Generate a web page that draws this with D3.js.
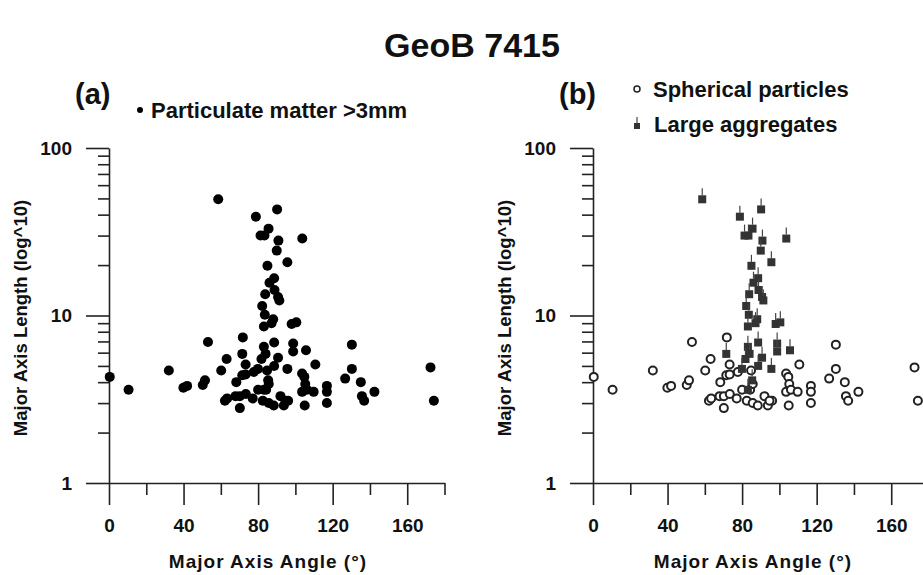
<!DOCTYPE html>
<html>
<head>
<meta charset="utf-8">
<script src="https://cdn.jsdelivr.net/npm/d3@7"></script>
<style>
  body { margin: 0; background: #fff; }
  text { font-family: "Liberation Sans", Arial, sans-serif; font-weight: bold; fill: #111; }
</style>
</head>
<body>
<svg id="chart" width="923" height="575"></svg>
<script>
// values: angle in degrees, length on a log axis
const aggAngle  = [58.6, 90.2, 78.8, 85.6, 81.3, 83.4, 90.9, 103.7, 90.0, 95.7, 85.0, 88.6, 86.1, 83.8, 88.8, 90.7, 91.4, 82.2, 83.6, 88.1,
                   83.1, 87.2, 98.0, 100.5, 83.1, 88.6, 98.8, 98.8, 105.7, 84.0, 71.5, 81.8, 90.7, 88.6, 95.7, 79.9, 85.4, 83.1];
const aggLength = [49.4, 43.0, 38.9, 33.0, 30.0, 30.0, 28.0, 28.8, 24.4, 20.8, 19.8, 16.7, 15.7, 13.4, 14.2, 12.9, 12.3, 11.4, 10.1, 9.5,
                   8.6, 9.0, 8.9, 9.1, 6.5, 6.9, 6.8, 6.1, 6.2, 5.9, 5.9, 5.5, 5.6, 5.0, 4.8, 4.8, 4.1, 3.6];

const sphAngle  = [0.4, 10.5, 32.1, 39.9, 41.9, 50.3, 51.5, 53.1, 60.2, 63.1, 62.2, 63.4, 68.3, 67.9, 70.2, 70.2, 71.8, 73.3, 71.5, 73.3,
                   73.4, 77.1, 77.7, 80.0, 82.5, 84.3, 84.8, 85.7, 85.7, 88.4, 92.0, 93.8, 96.1, 94.7, 103.6, 104.8, 105.3, 103.6, 106.2, 109.8,
                   105.0, 110.7, 116.9, 116.9, 116.9, 126.7, 130.3, 130.3, 135.1, 135.7, 136.9, 142.4, 172.5, 174.3];
const sphLength = [4.3, 3.6, 4.7, 3.7, 3.8, 3.85, 4.1, 6.95, 4.7, 5.5, 3.1, 3.2, 4.0, 3.3, 3.3, 2.8, 7.4, 5.1, 4.4, 4.45,
                   3.4, 3.2, 4.6, 3.6, 3.1, 3.6, 4.7, 3.9, 3.0, 2.9, 3.3, 2.9, 3.1, 3.1, 4.5, 4.3, 3.9, 3.5, 3.6, 3.5,
                   2.9, 5.1, 3.8, 3.5, 3.0, 4.2, 6.7, 4.8, 4.0, 3.3, 3.1, 3.5, 4.9, 3.1];

const xTicksMajor = [0, 40, 80, 120, 160];
const xTicksMinor = [20, 60, 100, 140, 180];
const yTicksMajor = [1, 10, 100];

const svg = d3.select("#chart");

svg.append("text").attr("x", 472).attr("y", 57).attr("text-anchor", "middle")
    .style("font-size", "34px").text("GeoB 7415");

const y = d3.scaleLog().domain([1, 100]).range([483, 148]);
const yMinor = d3.range(0, 2).flatMap(e => d3.range(2, 10).map(m => m * Math.pow(10, e)));

function panel(x0, tag, labelX) {
    const x = d3.scaleLinear().domain([0, 180]).range([x0, x0 + 335.5]);
    const g = svg.append("g");

    // x axis: major + minor ticks pointing down
    g.append("g").attr("class", "xa").attr("transform", "translate(0,483)")
        .call(d3.axisBottom(x).tickValues(xTicksMinor).tickSize(12).tickSizeOuter(0).tickFormat(""));
    g.append("g").attr("class", "xa").attr("transform", "translate(0,483)")
        .call(d3.axisBottom(x).tickValues(xTicksMajor).tickSize(22).tickSizeOuter(0).tickPadding(10))
        .call(a => a.select(".domain").remove());

    // y axis
    g.append("g").attr("transform", `translate(${x0},0)`)
        .call(d3.axisLeft(y).tickValues(yMinor).tickSize(11).tickSizeOuter(0).tickFormat(""));
    g.append("g").attr("transform", `translate(${x0},0)`)
        .call(d3.axisLeft(y).tickValues(yTicksMajor).tickSize(23).tickSizeOuter(0).tickPadding(14)
            .tickFormat(d3.format("d")))
        .call(a => a.select(".domain").remove());

    g.selectAll(".domain, .tick line").attr("stroke", "#222").attr("stroke-width", 1.6);
    g.selectAll(".tick text").style("font-size", "19px").attr("fill", "#111");
    g.selectAll(".xa .tick text").attr("dy", "0.9em");

    g.append("text").attr("x", labelX).attr("y", 568).attr("text-anchor", "middle")
        .style("font-size", "19px").style("letter-spacing", "1px").text("Major Axis Angle (°)");
    g.append("text").attr("transform", `translate(${x0 - 82},318) rotate(-90)`).attr("text-anchor", "middle")
        .style("font-size", "18.5px").text("Major Axis Length (log^10)");
    g.append("text").attr("x", x0 - 34).attr("y", 104).style("font-size", "29px").text(tag);
    return { g, x };
}

// (a) all particulate matter
const A = panel(109, "(a)", 268);
const allAngle = sphAngle.concat(aggAngle);
const allLength = sphLength.concat(aggLength);
A.g.append("g").selectAll("circle").data(allAngle).join("circle")
    .attr("cx", d => A.x(d)).attr("cy", (d, i) => y(allLength[i])).attr("r", 5).attr("fill", "#000");
A.g.append("circle").attr("cx", 140).attr("cy", 110).attr("r", 3).attr("fill", "#000");
A.g.append("text").attr("x", 151).attr("y", 118).style("font-size", "22px").text("Particulate matter >3mm");

// (b) spherical particles vs large aggregates
const B = panel(593, "(b)", 753);
B.g.append("g").selectAll("circle").data(sphAngle).join("circle")
    .attr("cx", d => B.x(d)).attr("cy", (d, i) => y(sphLength[i])).attr("r", 4)
    .attr("fill", "#fff").attr("stroke", "#222").attr("stroke-width", 2);
const agg = B.g.append("g").selectAll("g").data(aggAngle).join("g")
    .attr("transform", (d, i) => `translate(${B.x(d)},${y(aggLength[i])})`);
agg.append("line").attr("y1", -4).attr("y2", -11).attr("stroke", "#444").attr("stroke-width", 1.2);
agg.append("rect").attr("x", -4).attr("y", -4).attr("width", 8).attr("height", 8).attr("fill", "#333");

B.g.append("circle").attr("cx", 637).attr("cy", 89).attr("r", 3).attr("fill", "#fff").attr("stroke", "#222").attr("stroke-width", 1.5);
B.g.append("line").attr("x1", 637).attr("x2", 637).attr("y1", 117).attr("y2", 124).attr("stroke", "#444").attr("stroke-width", 1.2);
B.g.append("rect").attr("x", 634).attr("y", 123).attr("width", 6).attr("height", 6).attr("fill", "#333");
B.g.append("text").attr("x", 653).attr("y", 97).style("font-size", "22px").text("Spherical particles");
B.g.append("text").attr("x", 654).attr("y", 132).style("font-size", "22px").text("Large aggregates");
</script>
</body>
</html>
